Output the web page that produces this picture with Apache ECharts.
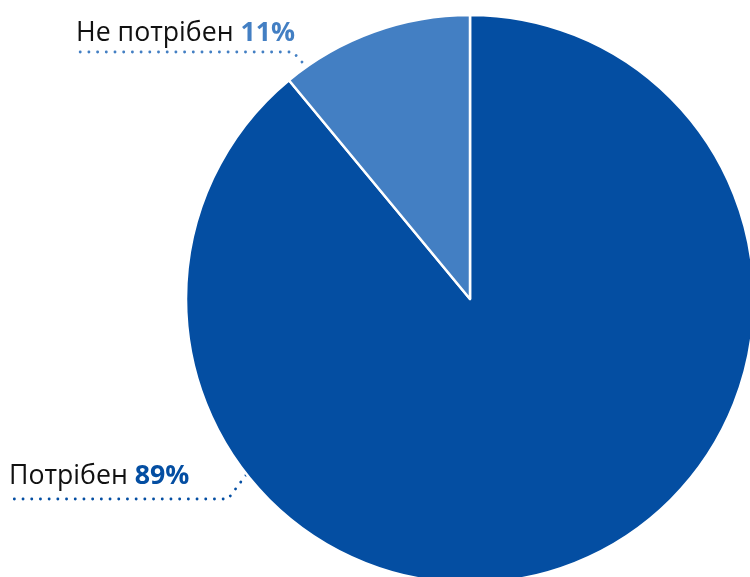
<!DOCTYPE html>
<html>
<head>
<meta charset="utf-8">
<style>
html,body{margin:0;padding:0;background:#fff;}
#chart{width:750px;height:577px;}
</style>
<script src="https://cdn.jsdelivr.net/npm/echarts@6/dist/echarts.min.js"></script>
</head>
<body>
<div id="chart"></div>
<script>
// Data
const categories = ['Потрібен', 'Не потрібен'];
const values = [89, 11];
const colors = ['#044ea2', '#437fc3'];

// Label placement (decoration only)
const labelPlacement = [
  { x: 9, y: 476, line: [[246, 475], [228, 499], [9, 499]] },
  { x: 76, y: 33, line: [[302, 62], [293, 52], [76, 52]] }
];

const chart = echarts.init(document.getElementById('chart'));
chart.setOption({
  animation: false,
  series: [{
    type: 'pie',
    center: [470, 299],
    radius: 284,
    startAngle: 90,
    clockwise: true,
    data: categories.map((c, i) => ({
      name: c,
      value: values[i],
      itemStyle: { color: colors[i] },
      label: {
        rich: {
          n: { color: '#111', fontSize: 26.7, fontFamily: 'Open Sans' },
          v: { color: colors[i], fontSize: 26.7, fontWeight: 'bold', fontFamily: 'Open Sans' }
        }
      },
      labelLine: { lineStyle: { color: colors[i] } }
    })),
    itemStyle: { borderColor: '#fff', borderWidth: 2.5 },
    label: {
      show: true,
      position: 'outside',
      overflow: 'none',
      formatter: p => '{n|' + p.name + ' }{v|' + p.value + '%}'
    },
    labelLine: {
      show: true,
      length: 20,
      length2: 20,
      lineStyle: { width: 2.8, type: [0.1, 8.6], cap: 'round' }
    },
    labelLayout: function (params) {
      const lp = labelPlacement[params.dataIndex];
      return {
        x: lp.x,
        y: lp.y,
        align: 'left',
        verticalAlign: 'middle',
        labelLinePoints: lp.line
      };
    }
  }]
});
</script>
</body>
</html>
